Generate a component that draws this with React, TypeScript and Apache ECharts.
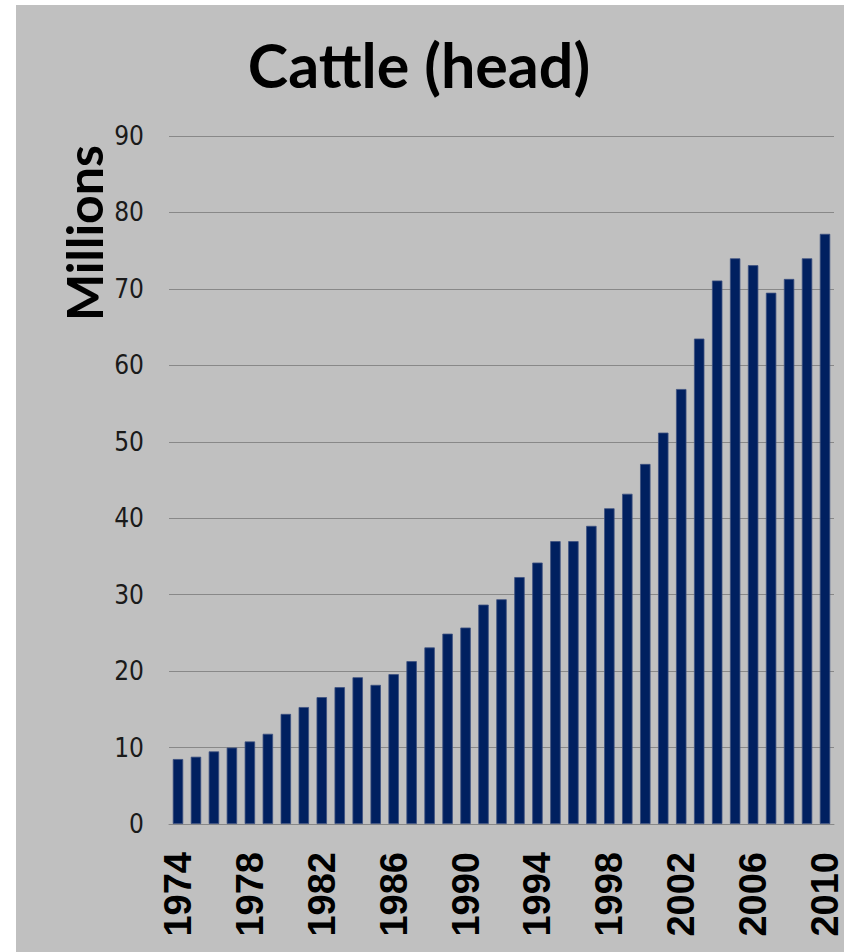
import React, { useEffect, useRef } from "react";
import * as echarts from "echarts";

const years: string[] = [
  "1974", "1975", "1976", "1977", "1978", "1979", "1980", "1981", "1982", "1983",
  "1984", "1985", "1986", "1987", "1988", "1989", "1990", "1991", "1992", "1993",
  "1994", "1995", "1996", "1997", "1998", "1999", "2000", "2001", "2002", "2003",
  "2004", "2005", "2006", "2007", "2008", "2009", "2010",
];

const cattleMillions: number[] = [
  8.5, 8.8, 9.5, 10.0, 10.8, 11.8, 14.4, 15.3, 16.6, 17.9,
  19.2, 18.2, 19.6, 21.3, 23.1, 24.9, 25.7, 28.7, 29.4, 32.3,
  34.2, 37.0, 37.0, 39.0, 41.3, 43.2, 47.1, 51.2, 56.9, 63.5,
  71.1, 74.0, 73.1, 69.5, 71.3, 74.0, 77.2,
];

const yMin = 0;
const yMax = 90;
const yStep = 10;

const titleText = "Cattle (head)";
const yAxisTitle = "Millions";

export default function App() {
  const ref = useRef<HTMLDivElement>(null);

  useEffect(() => {
    if (!ref.current) return;
    const chart = echarts.init(ref.current, undefined, { renderer: "svg" });
    chart.setOption({
      animation: false,
      backgroundColor: "#c0c0c0",
      title: {
        text: titleText,
        left: 398,
        top: 24,
        textAlign: "center",
        textStyle: {
          fontFamily: "Lato, 'Open Sans', sans-serif",
          fontWeight: "bold",
          fontSize: 61,
          color: "#000000",
        },
      },
      graphic: [
        {
          type: "text",
          x: 68,
          y: 228,
          rotation: Math.PI / 2,
          style: {
            text: yAxisTitle,
            fontFamily: "Lato, 'Open Sans', sans-serif",
            fontWeight: "bold",
            fontSize: 50,
            fill: "#000000",
            textAlign: "center",
            textVerticalAlign: "middle",
          },
        },
      ],
      grid: { left: 153, right: 9, top: 131, bottom: 128, containLabel: false },
      xAxis: {
        type: "category",
        data: years,
        axisLine: { show: true, lineStyle: { color: "#888888", width: 1 } },
        axisTick: { show: false },
        axisLabel: {
          interval: 3,
          rotate: 90,
          margin: 28,
          fontFamily: "'Liberation Sans', Arial, sans-serif",
          fontWeight: "bold",
          fontSize: 38,
          lineHeight: 26,
          color: "#000000",
        },
      },
      yAxis: {
        type: "value",
        min: yMin,
        max: yMax,
        interval: yStep,
        axisLine: { show: false },
        axisTick: { show: false },
        splitLine: { show: true, lineStyle: { color: "#888888", width: 1 } },
        axisLabel: {
          margin: 25,
          fontFamily: "'Liberation Sans Narrow', 'DejaVu Sans Condensed', sans-serif",
          fontSize: 26,
          color: "#1a1a1a",
        },
      },
      series: [
        {
          type: "bar",
          data: cattleMillions,
          barCategoryGap: "42%",
          itemStyle: {
            color: "#002060",
            borderColor: "#3d5180",
            borderWidth: 0.8,
          },
        },
      ],
    });
    return () => chart.dispose();
  }, []);

  return (
    <div
      style={{
        position: "absolute",
        left: 0,
        top: 0,
        width: 844,
        height: 952,
        background: "#ffffff",
      }}
    >
      <div
        ref={ref}
        style={{ position: "absolute", left: 16, top: 5, width: 828, height: 947 }}
      />
    </div>
  );
}
